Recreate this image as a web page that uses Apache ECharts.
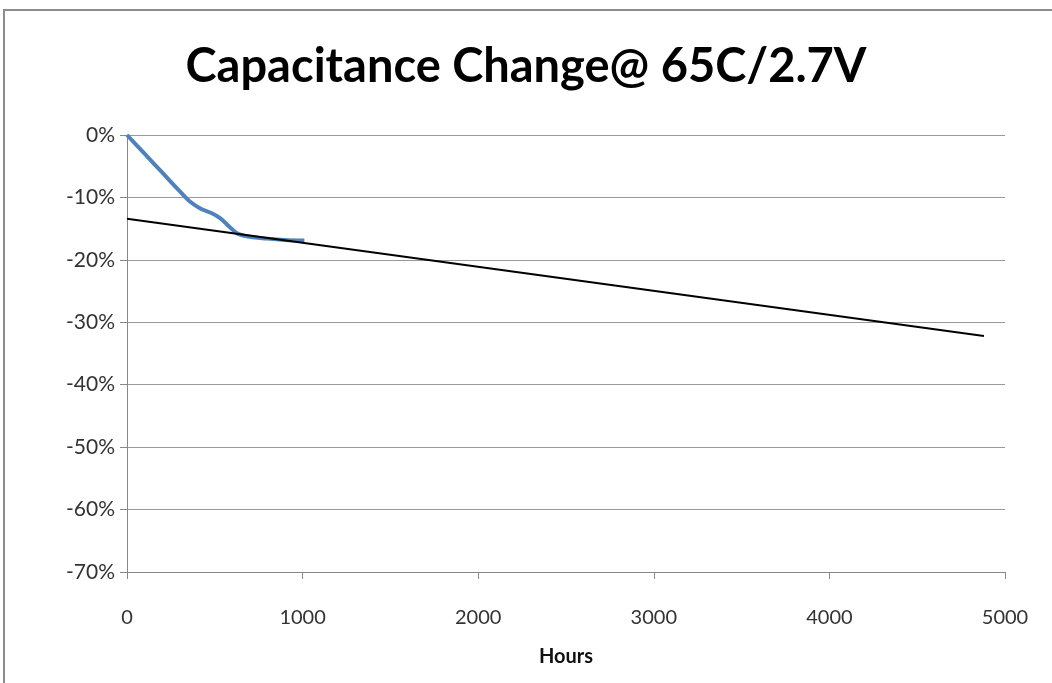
<!DOCTYPE html>
<html>
<head>
<meta charset="utf-8">
<script src="https://cdn.jsdelivr.net/npm/echarts@6/dist/echarts.min.js"></script>
<style>
  html, body { margin: 0; padding: 0; background: #fff; }
  #chart { width: 1052px; height: 683px; }
</style>
</head>
<body>
<div id="chart"></div>
<script>
// measured capacitance change (hours, %)
const measuredHours = [0, 100, 200, 300, 360, 420, 480, 530, 580, 630, 700, 800, 900, 1010]
const measuredPct = [0, -3, -6, -9, -10.7, -11.8, -12.5, -13.3, -14.6, -15.8, -16.3, -16.6, -16.8, -16.9]
// linear extrapolation
const trendHours = [0, 4880]
const trendPct = [-13.4, -32.2]
const xTicks = [0, 1000, 2000, 3000, 4000, 5000]

const chart = echarts.init(document.getElementById('chart'))
const font = 'Lato, "Open Sans", sans-serif'

chart.setOption({
  backgroundColor: '#fff',
  animation: false,
  title: {
    text: 'Capacitance Change@ 65C/2.7V',
    left: 'center', top: 38,
    textStyle: { fontFamily: font, fontSize: 47, fontWeight: 'bold', color: '#000' }
  },
  graphic: [{
    type: 'rect', silent: true,
    shape: { x: 4, y: 10, width: 1070, height: 700 },
    style: { fill: 'none', stroke: '#8c8c8c', lineWidth: 2 }
  }],
  grid: { left: 127, right: 47, top: 135, bottom: 111 },
  xAxis: {
    type: 'value', min: xTicks[0], max: xTicks[xTicks.length - 1], interval: 1000,
    name: 'Hours', nameLocation: 'middle', nameGap: 75,
    nameTextStyle: { fontFamily: font, fontSize: 20, fontWeight: 'bold', color: '#111' },
    axisLine: { onZero: false, lineStyle: { color: '#888', width: 1 } },
    axisTick: { show: true, length: 7, lineStyle: { color: '#888' } },
    axisLabel: { fontFamily: font, fontSize: 20, color: '#333', margin: 36, formatter: v => String(v) },
    splitLine: { show: false }
  },
  yAxis: {
    type: 'value', min: -70, max: 0, interval: 10,
    axisLine: { show: true, lineStyle: { color: '#888', width: 1 } },
    axisTick: { show: true, length: 7, lineStyle: { color: '#888' } },
    axisLabel: { fontFamily: font, fontSize: 21, color: '#333', formatter: '{value}%', margin: 12 },
    splitLine: { show: true, lineStyle: { color: '#999', width: 1 } }
  },
  series: [
    {
      name: 'Measured', type: 'line', smooth: 0.3, symbol: 'none',
      data: measuredHours.map((h, i) => [h, measuredPct[i]]),
      lineStyle: { color: '#4f81bd', width: 4 }, z: 3
    },
    {
      name: 'Trend', type: 'line', symbol: 'none',
      data: trendHours.map((h, i) => [h, trendPct[i]]),
      lineStyle: { color: '#000', width: 2 }, z: 4
    }
  ]
})
</script>
</body>
</html>
